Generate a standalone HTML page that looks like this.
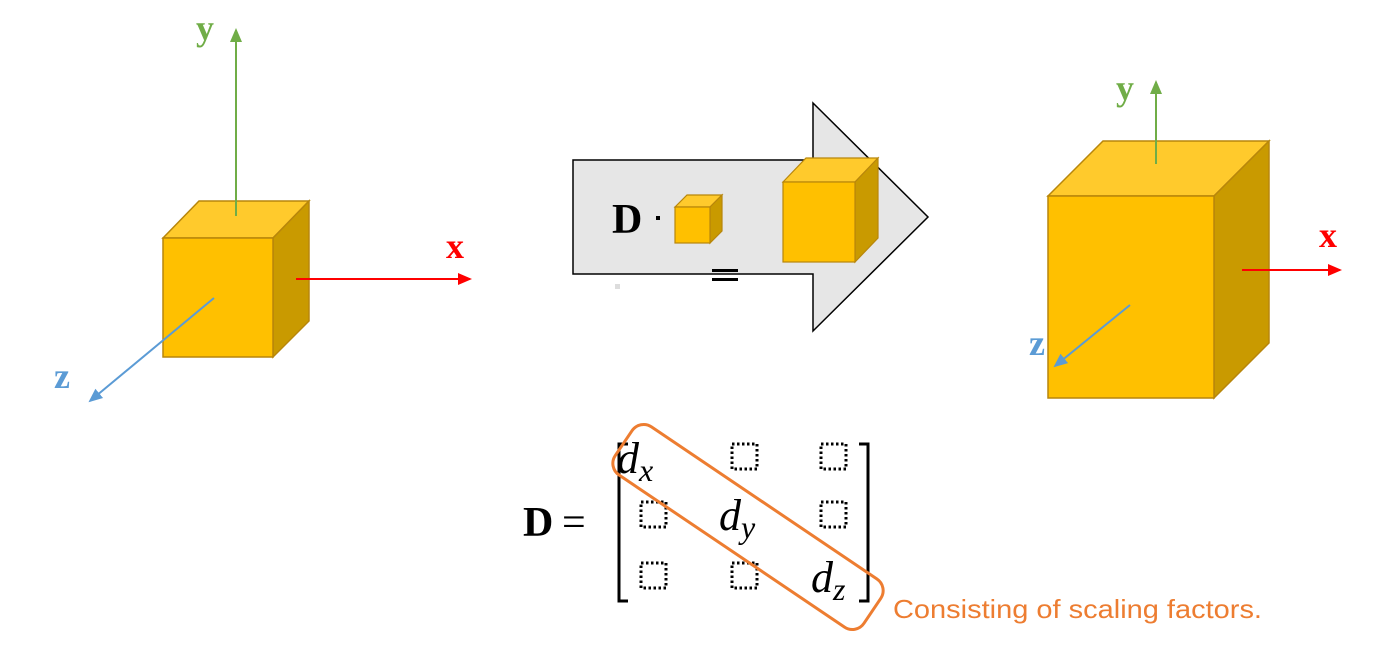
<!DOCTYPE html>
<html><head><meta charset="utf-8"><style>body{margin:0;background:#fff}svg{display:block}</style></head><body>
<svg width="1384" height="650" viewBox="0 0 1384 650" xmlns="http://www.w3.org/2000/svg">
<defs>
<marker id="ag" markerWidth="8" markerHeight="8" refX="6" refY="4" orient="auto"><path d="M0,1 L7,4 L0,7z" fill="#70ad47"/></marker>
<marker id="ar" markerWidth="8" markerHeight="8" refX="6" refY="4" orient="auto"><path d="M0,1 L7,4 L0,7z" fill="#ff0000"/></marker>
<marker id="ab" markerWidth="8" markerHeight="8" refX="6" refY="4" orient="auto"><path d="M0,1 L7,4 L0,7z" fill="#5b9bd5"/></marker>
</defs>
<g font-family="Liberation Serif, serif" font-weight="bold" font-size="36">
<g stroke="#b8860b" stroke-width="1.5">
<polygon points="163,238 199,201 309,201 273,238" fill="#ffca2c"/>
<polygon points="273,238 309,201 309,321 273,357" fill="#c99a00"/>
<rect x="163" y="238" width="110" height="119" fill="#ffc000"/>
</g>
<line x1="236" y1="216" x2="236" y2="30" stroke="#70ad47" stroke-width="2" marker-end="url(#ag)"/>
<line x1="296" y1="279" x2="470" y2="279" stroke="#ff0000" stroke-width="2" marker-end="url(#ar)"/>
<line x1="214" y1="298" x2="90" y2="401" stroke="#5b9bd5" stroke-width="2" marker-end="url(#ab)"/>
<text x="196" y="40" fill="#70ad47">y</text>
<text x="446" y="258" fill="#ff0000">x</text>
<text x="54" y="388" fill="#5b9bd5">z</text>
<polygon points="573,160 813,160 813,103 928,217 813,331 813,274 573,274" fill="#e6e6e6" stroke="#000" stroke-width="1.5"/>
<text x="612" y="233" font-size="42" fill="#000">D</text>
<rect x="656" y="216" width="4" height="4" fill="#000"/>
<g stroke="#b8860b" stroke-width="1.2">
<polygon points="675,207 687,195 722,195 710,207" fill="#ffca2c"/>
<polygon points="710,207 722,195 722,231 710,243" fill="#c99a00"/>
<rect x="675" y="207" width="35" height="36" fill="#ffc000"/>
</g>
<g stroke="#b8860b" stroke-width="1.2">
<polygon points="783,182 806,158 878,158 855,182" fill="#ffca2c"/>
<polygon points="855,182 878,158 878,238 855,262" fill="#c99a00"/>
<rect x="783" y="182" width="72" height="80" fill="#ffc000"/>
</g>
<rect x="712" y="269" width="26" height="3" fill="#000"/><rect x="712" y="278" width="26" height="3" fill="#000"/>
<rect x="615" y="284" width="5" height="5" fill="#ddd"/>
<g stroke="#b8860b" stroke-width="1.5">
<polygon points="1048,196 1103,141 1269,141 1214,196" fill="#ffca2c"/>
<polygon points="1214,196 1269,141 1269,343 1214,398" fill="#c99a00"/>
<rect x="1048" y="196" width="166" height="202" fill="#ffc000"/>
</g>
<line x1="1156" y1="164" x2="1156" y2="82" stroke="#70ad47" stroke-width="2" marker-end="url(#ag)"/>
<line x1="1242" y1="270" x2="1340" y2="270" stroke="#ff0000" stroke-width="2" marker-end="url(#ar)"/>
<line x1="1130" y1="305" x2="1055" y2="366" stroke="#5b9bd5" stroke-width="2" marker-end="url(#ab)"/>
<text x="1116" y="100" fill="#70ad47">y</text>
<text x="1319" y="247" fill="#ff0000">x</text>
<text x="1029" y="355" fill="#5b9bd5">z</text>
<text x="523" y="536" font-size="42" fill="#000">D</text>
<text x="562" y="536" font-size="42" font-weight="normal" fill="#000">=</text>
</g>
<g>
<path d="M628,444 L619,444 L619,601 L628,601" fill="none" stroke="#000" stroke-width="3"/>
<path d="M859,444 L868,444 L868,601 L859,601" fill="none" stroke="#000" stroke-width="3"/>
<g font-family="Liberation Serif, serif" font-style="italic" font-size="44" fill="#000">
<text x="617" y="473">d<tspan font-size="32" dy="8">x</tspan></text>
<text x="719" y="530">d<tspan font-size="32" dy="8">y</tspan></text>
<text x="811" y="592">d<tspan font-size="32" dy="8">z</tspan></text>
</g>
<g fill="none" stroke="#000" stroke-width="3" stroke-dasharray="2.5 2.5">
<rect x="732" y="444" width="25" height="25"/><rect x="821" y="444" width="25" height="25"/>
<rect x="641" y="502" width="25" height="25"/><rect x="821" y="502" width="25" height="25"/>
<rect x="641" y="563" width="25" height="25"/><rect x="732" y="563" width="25" height="25"/>
</g>
</g>
<rect x="598" y="498" width="300" height="58" rx="14" transform="rotate(34 748 527)" fill="none" stroke="#ed7d31" stroke-width="3"/>
<text x="893" y="618" font-family="Liberation Sans, sans-serif" font-size="26" textLength="369" lengthAdjust="spacingAndGlyphs" fill="#ed7d31">Consisting of scaling factors.</text>
</svg>
</body></html>
